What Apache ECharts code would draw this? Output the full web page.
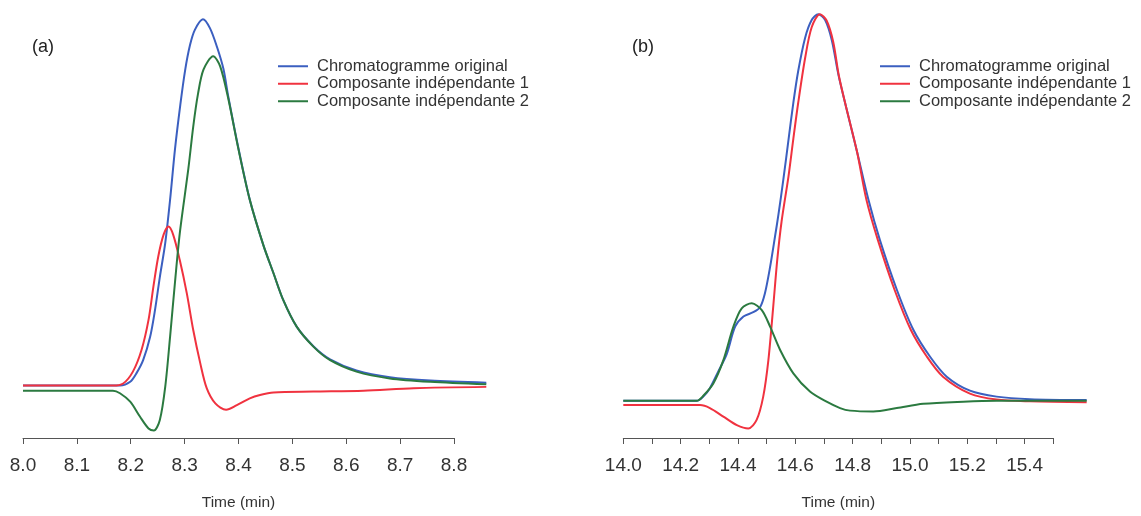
<!DOCTYPE html>
<html>
<head>
<meta charset="utf-8">
<script src="https://cdn.jsdelivr.net/npm/echarts@6/dist/echarts.min.js"></script>
<style>
html,body{margin:0;padding:0;background:#fff;}
#chart{width:1141px;height:516px;}
</style>
</head>
<body>
<div id="chart"></div>
<script>
// ---------- Data ----------
const seriesNames = ['Chromatogramme original', 'Composante indépendante 1', 'Composante indépendante 2'];
const panelLabels = ['(a)', '(b)'];
const axisTitle = 'Time (min)';

// Panel (a)
const aOrigT = [8.000, 8.100, 8.180, 8.199, 8.211, 8.223, 8.236, 8.245, 8.254, 8.264, 8.273, 8.282, 8.292, 8.301, 8.310, 8.319, 8.334, 8.347, 8.360, 8.372, 8.381, 8.400, 8.421, 8.446, 8.465, 8.483, 8.508, 8.539, 8.570, 8.619, 8.681, 8.756, 8.860];
const aOrigV = [13.3, 13.3, 13.3, 14.2, 16.3, 19.3, 24.8, 31.1, 38.9, 46.9, 57.1, 68.9, 79.5, 87.7, 93.6, 97.2, 99.7, 97.6, 93.2, 88.0, 81.5, 69.2, 57.1, 46.5, 39.8, 33.5, 27.2, 22.6, 19.5, 16.9, 15.3, 14.5, 14.0];
const aIc1T = [8.000, 8.167, 8.186, 8.204, 8.220, 8.233, 8.242, 8.251, 8.261, 8.270, 8.279, 8.291, 8.304, 8.316, 8.329, 8.341, 8.357, 8.377, 8.397, 8.421, 8.440, 8.465, 8.539, 8.632, 8.725, 8.860];
const aIc1V = [13.3, 13.3, 13.8, 16.6, 21.7, 28.8, 36.6, 43.7, 48.9, 50.8, 48.8, 42.9, 35.1, 26.4, 18.6, 12.7, 9.1, 7.6, 8.7, 10.3, 11.1, 11.7, 11.9, 12.1, 12.7, 13.0];
const aIc2T = [8.000, 8.167, 8.180, 8.199, 8.217, 8.233, 8.243, 8.254, 8.264, 8.273, 8.282, 8.291, 8.307, 8.316, 8.325, 8.335, 8.353, 8.366, 8.381, 8.400, 8.421, 8.446, 8.465, 8.483, 8.508, 8.539, 8.570, 8.619, 8.681, 8.756, 8.860];
const aIc2V = [12.1, 12.1, 11.5, 9.5, 6.0, 3.2, 2.7, 5.2, 13.0, 24.8, 37.5, 49.2, 64.5, 74.4, 82.2, 87.8, 91.0, 88.6, 81.0, 69.0, 57.1, 46.5, 39.8, 33.5, 27.2, 22.5, 19.3, 16.6, 15.0, 14.2, 13.6];

// Panel (b)
const bOrigT = [14.000, 14.256, 14.279, 14.302, 14.331, 14.361, 14.390, 14.419, 14.453, 14.477, 14.494, 14.512, 14.529, 14.541, 14.558, 14.576, 14.593, 14.610, 14.634, 14.657, 14.680, 14.704, 14.727, 14.750, 14.777, 14.815, 14.855, 14.895, 14.954, 15.012, 15.070, 15.128, 15.209, 15.302, 15.418, 15.616];
const bOrigV = [9.7, 9.7, 10.7, 12.7, 16.6, 20.8, 27.2, 29.6, 30.6, 31.8, 35.1, 41.3, 48.4, 53.6, 61.8, 71.2, 80.0, 87.5, 95.3, 99.5, 100.9, 99.5, 94.8, 86.7, 79.0, 68.5, 57.1, 47.6, 35.9, 26.4, 20.1, 15.4, 12.1, 10.7, 10.1, 9.9];
const bIc1T = [14.000, 14.268, 14.302, 14.349, 14.396, 14.436, 14.465, 14.488, 14.506, 14.523, 14.537, 14.552, 14.576, 14.593, 14.610, 14.634, 14.657, 14.686, 14.709, 14.732, 14.752, 14.777, 14.815, 14.848, 14.888, 14.946, 15.003, 15.059, 15.115, 15.209, 15.302, 15.418, 15.616];
const bIc1V = [8.7, 8.7, 8.0, 6.0, 4.0, 3.2, 5.2, 10.7, 19.3, 32.0, 43.0, 52.0, 62.6, 71.5, 80.0, 90.5, 97.8, 100.9, 99.4, 94.4, 86.3, 79.0, 68.5, 57.1, 47.6, 35.9, 26.4, 20.1, 15.4, 11.4, 10.0, 9.6, 9.4];
const bIc2T = [14.000, 14.256, 14.279, 14.314, 14.349, 14.384, 14.413, 14.448, 14.483, 14.512, 14.547, 14.593, 14.651, 14.709, 14.756, 14.791, 14.872, 14.954, 15.046, 15.186, 15.302, 15.616];
const bIc2V = [9.7, 9.7, 10.9, 13.8, 19.3, 27.2, 31.5, 32.7, 31.1, 27.2, 21.7, 16.2, 11.9, 9.5, 8.0, 7.4, 7.2, 8.0, 9.0, 9.5, 9.7, 9.7];

// Axis ranges / ticks
const aAxisMin = 8.0, aAxisMax = 8.8, aTick = 0.1;
const bAxisMin = 14.0, bAxisMax = 15.5, bTick = 0.1;
const aDataMax = 8.86, bDataMax = 15.62;

// ---------- Chart ----------
const colors = ['#3b5fc0', '#f0323f', '#2b7a40'];
const zip = (t, v) => t.map((x, i) => [x, v[i]]);

const gTop = 1, gBottom = 74;
const grids = [
  {left: 23, width: 463.3, top: gTop, bottom: gBottom},
  {left: 23, width: 431, top: gTop, bottom: gBottom},
  {left: 623.3, width: 464.5, top: gTop, bottom: gBottom},
  {left: 623.3, width: 430, top: gTop, bottom: gBottom}
];

const axisCommon = {
  type: 'value',
  axisLine: {show: true, lineStyle: {color: '#555', width: 1}},
  axisTick: {show: true, length: 6, lineStyle: {color: '#555'}},
  splitLine: {show: false},
  nameLocation: 'middle',
  nameGap: 57,
  nameTextStyle: {fontFamily: 'Liberation Sans', fontSize: 15.5, color: '#333'}
};

const xAxes = [
  {type: 'value', gridIndex: 0, min: aAxisMin, max: aDataMax, show: false},
  Object.assign({}, axisCommon, {
    gridIndex: 1, min: aAxisMin, max: aAxisMax, interval: aTick, name: axisTitle,
    axisLabel: {fontFamily: 'Liberation Sans', fontSize: 19, color: '#333', margin: 18,
      formatter: v => v.toFixed(1)}
  }),
  {type: 'value', gridIndex: 2, min: bAxisMin, max: bDataMax, show: false},
  Object.assign({}, axisCommon, {
    gridIndex: 3, min: bAxisMin, max: bAxisMax, interval: bTick, name: axisTitle,
    axisLabel: {fontFamily: 'Liberation Sans', fontSize: 19, color: '#333', margin: 18,
      formatter: v => (Math.round(v * 10) % 2 === 0 ? v.toFixed(1) : '')}
  })
];

const yAxes = [0, 1, 2, 3].map(i => ({type: 'value', gridIndex: i, min: 0, max: 104, show: false}));

function line(name, data, xi, color) {
  return {
    name: name, type: 'line', xAxisIndex: xi, yAxisIndex: xi,
    data: data, showSymbol: false, symbol: 'none', smooth: 0.3,
    lineStyle: {color: color, width: 2}, itemStyle: {color: color},
    emphasis: {disabled: true}, animation: false
  };
}

const series = [
  line(seriesNames[0], zip(aOrigT, aOrigV), 0, colors[0]),
  line(seriesNames[1], zip(aIc1T, aIc1V), 0, colors[1]),
  line(seriesNames[2], zip(aIc2T, aIc2V), 0, colors[2]),
  line(seriesNames[0], zip(bOrigT, bOrigV), 2, colors[0]),
  line(seriesNames[1], zip(bIc1T, bIc1V), 2, colors[1]),
  line(seriesNames[2], zip(bIc2T, bIc2V), 2, colors[2])
];

const legendCommon = {
  orient: 'vertical', data: seriesNames, icon: 'rect', itemWidth: 30, itemHeight: 2, itemGap: 0,
  textStyle: {fontFamily: 'Liberation Sans', fontSize: 16.5, color: '#333', lineHeight: 17.5, padding: [0, 0, 0, 4]},
  selectedMode: false
};

const option = {
  animation: false,
  backgroundColor: '#fff',
  title: [
    {text: panelLabels[0], left: 27, top: 33, textStyle: {fontFamily: 'Liberation Sans', fontSize: 18, fontWeight: 'normal', color: '#222'}},
    {text: panelLabels[1], left: 627, top: 33, textStyle: {fontFamily: 'Liberation Sans', fontSize: 18, fontWeight: 'normal', color: '#222'}}
  ],
  legend: [
    Object.assign({left: 273, top: 52.5}, legendCommon),
    Object.assign({left: 875, top: 52.5}, legendCommon)
  ],
  grid: grids,
  xAxis: xAxes,
  yAxis: yAxes,
  series: series
};

const chart = echarts.init(document.getElementById('chart'), null, {renderer: 'canvas'});
chart.setOption(option);
</script>
</body>
</html>
